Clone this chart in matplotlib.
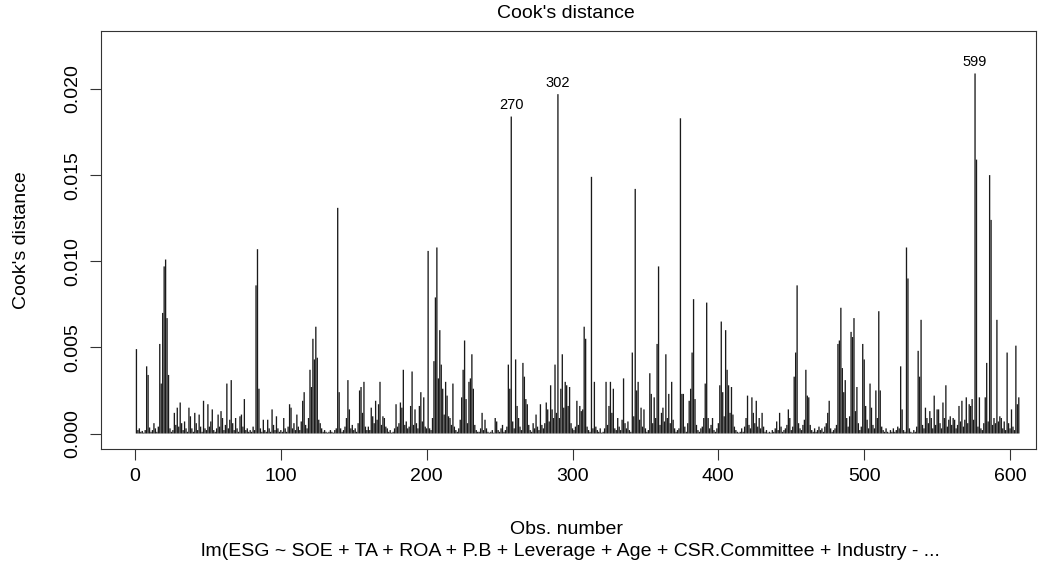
import numpy as np
import matplotlib
matplotlib.use("Agg")
import matplotlib.pyplot as plt

# Cook's distance per observation, in units of 1e-3, in observation order
cooks_milli = [
    4.9, 0.2, 0.3, 0.1, 0.15, 0.05, 0.2, 3.9, 3.4, 0.35,
    0.1, 0.2, 0.6, 0.3, 0.1, 0.4, 5.2, 2.9, 7.0, 9.7,
    10.1, 6.7, 3.4, 0.3, 0.1, 0.2, 1.2, 0.5, 1.5, 0.4,
    1.8, 0.6, 0.2, 0.7, 0.3, 0.1, 1.5, 1.0, 0.3, 0.1,
    1.2, 0.6, 0.2, 1.1, 0.4, 0.1, 1.9, 0.3, 0.2, 1.7,
    0.4, 0.7, 1.4, 0.2, 0.1, 0.3, 1.1, 0.4, 1.3, 0.9,
    0.2, 0.5, 2.9, 0.3, 0.8, 3.1, 0.6, 0.2, 0.9, 0.3,
    0.1, 1.0, 1.1, 0.4, 2.0, 0.2, 0.3, 0.1, 0.2, 0.1,
    0.4, 0.2, 8.6, 10.7, 2.6, 0.3, 0.1, 0.8, 0.2, 0.1,
    0.8, 0.3, 0.1, 1.4, 0.5, 0.2, 1.0, 0.3, 0.1, 0.2,
    0.1, 0.9, 0.3, 0.1, 0.4, 1.7, 1.5, 0.3, 0.6, 0.2,
    1.1, 0.4, 0.2, 0.7, 1.9, 2.4, 0.5, 0.3, 0.9, 3.7,
    2.7, 5.5, 4.3, 6.2, 4.4, 0.8, 0.6, 0.3, 0.1, 0.2,
    0.1, 0.05, 0.1, 0.2, 0.1, 0.05, 0.2, 0.3, 13.1, 2.4,
    0.3, 0.1, 0.2, 0.4, 0.9, 3.1, 1.4, 0.3, 0.5, 0.2,
    0.3, 0.1, 0.6, 2.5, 2.7, 1.2, 3.0, 0.4, 0.2, 0.4,
    0.2, 1.5, 1.0, 0.6, 1.9, 0.8, 1.7, 3.0, 0.5, 1.0,
    0.9, 0.4, 0.3, 0.1, 0.2, 0.05, 0.1, 0.3, 1.7, 0.4,
    0.6, 1.8, 1.5, 3.7, 0.5, 0.7, 0.3, 0.4, 1.6, 3.6,
    0.5, 1.4, 0.6, 0.3, 1.6, 2.4, 0.7, 2.1, 0.4, 0.3,
    10.6, 0.3, 0.2, 0.9, 4.2, 7.9, 10.8, 3.2, 6.0, 4.0,
    2.6, 1.1, 3.0, 2.2, 1.0, 0.9, 0.5, 2.9, 0.4, 0.2,
    0.1, 0.3, 0.8, 2.1, 3.7, 5.4, 2.0, 0.6, 3.0, 3.2,
    4.6, 2.6, 0.5, 0.2, 0.1, 0.1, 0.3, 1.2, 0.2, 0.8,
    0.3, 0.1, 0.05, 0.1, 0.2, 0.05, 0.9, 0.7, 0.2, 0.1,
    0.3, 0.5, 0.1, 0.2, 0.4, 4.0, 2.6, 18.4, 0.7, 0.3,
    4.3, 1.6, 0.9, 0.4, 0.2, 4.1, 3.3, 2.0, 1.7, 0.5,
    0.2, 0.1, 0.6, 0.3, 1.1, 0.4, 0.2, 1.7, 0.5, 0.3,
    0.6, 1.8, 1.4, 0.7, 2.8, 1.4, 0.9, 4.0, 1.2, 19.7,
    0.9, 2.6, 4.6, 1.5, 3.0, 2.8, 1.6, 2.7, 0.6, 0.3,
    0.2, 0.4, 1.9, 0.5, 1.6, 1.3, 1.4, 6.2, 5.5, 0.4,
    0.2, 0.1, 14.9, 0.3, 3.0, 0.4, 0.2, 0.1, 0.3, 0.05,
    0.1, 0.3, 3.0, 0.5, 1.6, 3.0, 1.2, 2.6, 0.3, 0.2,
    0.9, 0.4, 0.2, 0.8, 3.2, 0.6, 0.3, 0.7, 0.2, 0.1,
    4.7, 1.0, 14.2, 2.5, 3.0, 0.8, 1.5, 0.4, 1.4, 0.3,
    0.1, 0.2, 3.5, 2.3, 0.6, 2.1, 0.9, 5.2, 9.7, 0.5,
    1.2, 1.5, 0.7, 4.6, 0.9, 2.3, 0.6, 3.0, 0.8, 0.3,
    0.1, 0.2, 0.3, 18.3, 2.3, 2.3, 0.4, 0.1, 0.6, 1.9,
    2.6, 4.7, 7.8, 2.0, 0.5, 0.2, 0.1, 0.3, 0.4, 0.9,
    2.9, 7.6, 0.9, 0.3, 0.5, 0.9, 0.2, 0.1, 0.3, 0.6,
    2.8, 6.5, 2.4, 1.0, 6.0, 3.7, 2.8, 1.2, 2.7, 1.1,
    0.4, 0.2, 0.1, 0.05, 0.1, 0.3, 0.1, 0.4, 0.9, 2.2,
    0.5, 0.3, 2.1, 1.2, 0.6, 1.9, 0.4, 0.9, 0.3, 1.2,
    0.4, 0.1, 0.2, 0.05, 0.1, 0.05, 0.2, 0.1, 0.3, 0.7,
    0.2, 1.2, 0.4, 0.1, 0.2, 0.3, 0.5, 1.4, 0.9, 0.2,
    0.4, 3.3, 4.7, 8.6, 0.6, 0.3, 0.2, 0.5, 0.8, 3.7,
    2.2, 2.1, 0.5, 0.2, 0.1, 0.3, 0.1, 0.2, 0.4, 0.2,
    0.3, 0.1, 0.4, 0.6, 1.2, 1.9, 0.3, 0.1, 0.2, 0.3,
    0.5, 5.2, 5.4, 7.3, 3.8, 2.4, 3.1, 0.9, 0.4, 1.0,
    5.9, 5.6, 6.7, 1.3, 2.7, 0.6, 0.2, 0.4, 5.2, 4.3,
    1.6, 0.8, 0.3, 2.9, 1.5, 0.5, 0.3, 2.5, 0.9, 7.1,
    2.5, 0.4, 0.2, 0.1, 0.3, 0.1, 0.05, 0.2, 0.1, 0.3,
    0.1, 0.2, 0.4, 0.3, 3.9, 1.4, 0.2, 0.1, 10.8, 9.0,
    0.3, 0.1, 0.05, 0.2, 0.1, 0.4, 4.8, 3.3, 6.6, 0.5,
    0.3, 1.5, 0.9, 0.6, 1.3, 0.9, 0.3, 2.2, 0.5, 1.4,
    1.4, 0.6, 0.3, 1.8, 0.9, 2.8, 0.4, 0.8, 1.0, 0.5,
    0.9, 0.8, 0.3, 0.5, 1.6, 0.7, 1.9, 0.4, 0.8, 2.1,
    0.6, 1.7, 1.6, 2.0, 0.8, 20.9, 15.9, 0.4, 2.1, 0.3,
    0.2, 0.6, 2.1, 4.1, 0.7, 15.0, 12.4, 0.5, 0.9, 0.6,
    6.6, 0.7, 1.0, 0.9, 0.3, 0.7, 0.2, 4.7, 0.6, 0.3,
    1.4, 0.4, 0.2, 5.1, 1.7, 2.1,
]

# Row names shown for the three largest distances (in decreasing order of distance)
id_labels = ["599", "302", "270"]

y_ticks = [0.000, 0.005, 0.010, 0.015, 0.020]
x_ticks = [0, 100, 200, 300, 400, 500, 600]

title_text = "Cook's distance"
ylabel_text = "Cook's distance"
xlabel_text = "Obs. number"
sub_text = "lm(ESG ~ SOE + TA + ROA + P.B + Leverage + Age + CSR.Committee + Industry - ..."

cooks = np.asarray(cooks_milli) * 1e-3
n = len(cooks)
obs = np.arange(1, n + 1)

plt.rcParams["font.family"] = ["Liberation Sans", "DejaVu Sans"]
FS = 14

W, H = 1054, 571
fig = plt.figure(figsize=(W / 100, H / 100), dpi=100)
L, R, T, B = 101, 1036, 31, 449
ax = fig.add_axes([L / W, 1 - B / H, (R - L) / W, (B - T) / H])

# type = "h" style: a vertical line from zero up to each distance
ax.vlines(obs, 0, cooks, colors="#1a1a1a", linewidth=0.95, snap=False,
          antialiased=True)

ymax = cooks.max() * 1.075
ax.set_ylim(-0.04 * ymax, 1.04 * ymax)
ax.set_xlim(-23.3, 617.8)

ax.set_xticks(x_ticks)
ax.set_xticklabels([str(t) for t in x_ticks], fontsize=FS)
ax.set_yticks(y_ticks)
ax.set_yticklabels([f"{t:.3f}" for t in y_ticks], fontsize=FS,
                   rotation=90, va="center")
ax.tick_params(direction="out", length=8, width=0.8, color="#333333", pad=6)
for s in ax.spines.values():
    s.set_linewidth(0.8)
    s.set_color("#333333")

# label the largest distances with their row names
top = np.argsort(cooks)[::-1][: len(id_labels)]
for k, name in zip(top, id_labels):
    ax.annotate(name, (obs[k], cooks[k]), xytext=(0, 3),
                textcoords="offset points", ha="center", va="bottom",
                fontsize=FS * 0.75)

fig.text(566 / W, 1 - 13 / H, title_text, ha="center", va="center", fontsize=FS)
fig.text(22 / W, 1 - 240 / H, ylabel_text, ha="center", va="center",
         rotation=90, fontsize=FS)
fig.text(566 / W, 1 - 529 / H, xlabel_text, ha="center", va="center", fontsize=FS)
fig.text(570 / W, 1 - 551 / H, sub_text, ha="center", va="center", fontsize=FS)

fig.savefig("out.png", dpi=100)
